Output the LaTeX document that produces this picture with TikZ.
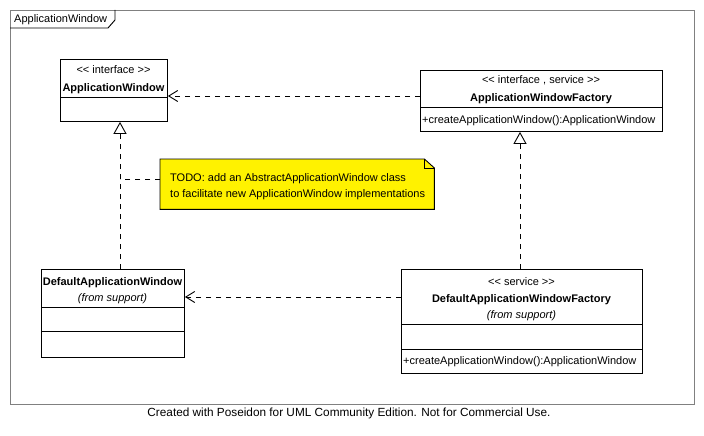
\documentclass[tikz,border=0pt]{standalone}
\usepackage{fontspec}
\newfontfamily\uf{Liberation Sans}
\usetikzlibrary{arrows.meta}
\begin{document}
\begin{tikzpicture}[x=1pt,y=-1pt,
  umlbox/.style={draw, line width=0.9pt, inner sep=0, anchor=north west},
  txt/.style={font=\uf\fontsize{11}{13}\selectfont, inner sep=0, anchor=base},
  btxt/.style={txt, font=\uf\bfseries\fontsize{11}{13}\selectfont},
  itxt/.style={txt, font=\uf\itshape\fontsize{11}{13}\selectfont},
  depend/.style={line width=0.9pt, dash pattern=on 5pt off 5pt, -{Straight Barb[length=9pt,width=11pt,line width=0.9pt]}},
  realize/.style={line width=0.9pt, dash pattern=on 5pt off 5pt, -{Triangle[open, length=12pt, width=13pt, line width=0.9pt, fill=white]}},
  divline/.style={line width=0.9pt}]
\useasboundingbox (0,0) rectangle (704,436);
\fill[white] (0,0) rectangle (704,436);
% frame
\node[draw=gray, line width=0.9pt, inner sep=0, anchor=north west, minimum width=684, minimum height=394] (frame) at (10,10) {};
\draw[line width=0.9pt] (10,28) -- (108,28) -- (115,20) -- (115,10);
\node[txt, anchor=base west] (ftitle) at (14,23) {ApplicationWindow};
% ApplicationWindow
\node[umlbox, minimum width=107, minimum height=62] (aw) at (60,59) {};
\node[txt] (aws) at (113.5,74) {<< interface >>};
\node[btxt] (awn) at (113.5,92) {ApplicationWindow};
\draw[divline] (aw.west |- 0,97) -- (aw.east |- 0,97);
% ApplicationWindowFactory
\node[umlbox, minimum width=242, minimum height=61] (fac) at (420,70) {};
\node[txt] (facs) at (541,83) {<< interface , service >>};
\node[btxt] (facn) at (541,101) {ApplicationWindowFactory};
\draw[divline] (fac.west |- 0,107) -- (fac.east |- 0,107);
\node[txt, anchor=base west] (facm) at (422,123) {+createApplicationWindow():ApplicationWindow};
% DefaultApplicationWindow
\node[umlbox, minimum width=143, minimum height=88] (daw) at (41,269) {};
\node[btxt] (dawn) at (112.5,285) {DefaultApplicationWindow};
\node[itxt] (dawf) at (112.5,301) {(from support)};
\draw[divline] (daw.west |- 0,307) -- (daw.east |- 0,307);
\draw[divline] (daw.west |- 0,331) -- (daw.east |- 0,331);
% DefaultApplicationWindowFactory
\node[umlbox, minimum width=241, minimum height=104] (dawfac) at (401,269) {};
\node[txt] (dfs) at (521.5,285) {<< service >>};
\node[btxt] (dfn) at (521.5,302) {DefaultApplicationWindowFactory};
\node[itxt] (dff) at (521.5,318) {(from support)};
\draw[divline] (dawfac.west |- 0,324) -- (dawfac.east |- 0,324);
\draw[divline] (dawfac.west |- 0,349) -- (dawfac.east |- 0,349);
\node[txt, anchor=base west] (dfm) at (403,364) {+createApplicationWindow():ApplicationWindow};
% Note
\node[inner sep=0, anchor=north west, minimum width=274, minimum height=50] (note) at (160,159) {};
\filldraw[fill=yellow, line width=0.9pt] (note.north west) -- ([xshift=-10pt]note.north east) -- ([yshift=-9pt]note.north east) -- (note.south east) -- (note.south west) -- cycle;
\draw[line width=0.9pt] ([xshift=-10pt]note.north east) -- ([xshift=-10pt,yshift=-9pt]note.north east) -- ([yshift=-9pt]note.north east);
\node[txt, anchor=base west] (n1) at (170,181) {TODO: add an AbstractApplicationWindow class};
\node[txt, anchor=base west] (n2) at (170,197) {to facilitate new ApplicationWindow implementations};
% connectors
\coordinate (xa) at (120,0);
\coordinate (xb) at (520,0);
\draw[depend] (fac.west |- 0,96) -- (aw.east |- 0,96);
\draw[depend] (dawfac.west |- 0,297) -- (daw.east |- 0,297);
\draw[realize] (daw.north -| xa) -- (aw.south -| xa);
\draw[realize] (dawfac.north -| xb) -- (fac.south -| xb);
\draw[line width=0.9pt, dash pattern=on 5pt off 5pt] (note.west |- 0,179) -- (xa |- 0,179);
% footer
\node[txt, font=\uf\fontsize{11.8}{14}\selectfont] (footer) at (349,416) {Created with Poseidon for UML Community Edition. Not for Commercial Use.};
\end{tikzpicture}
\end{document}
